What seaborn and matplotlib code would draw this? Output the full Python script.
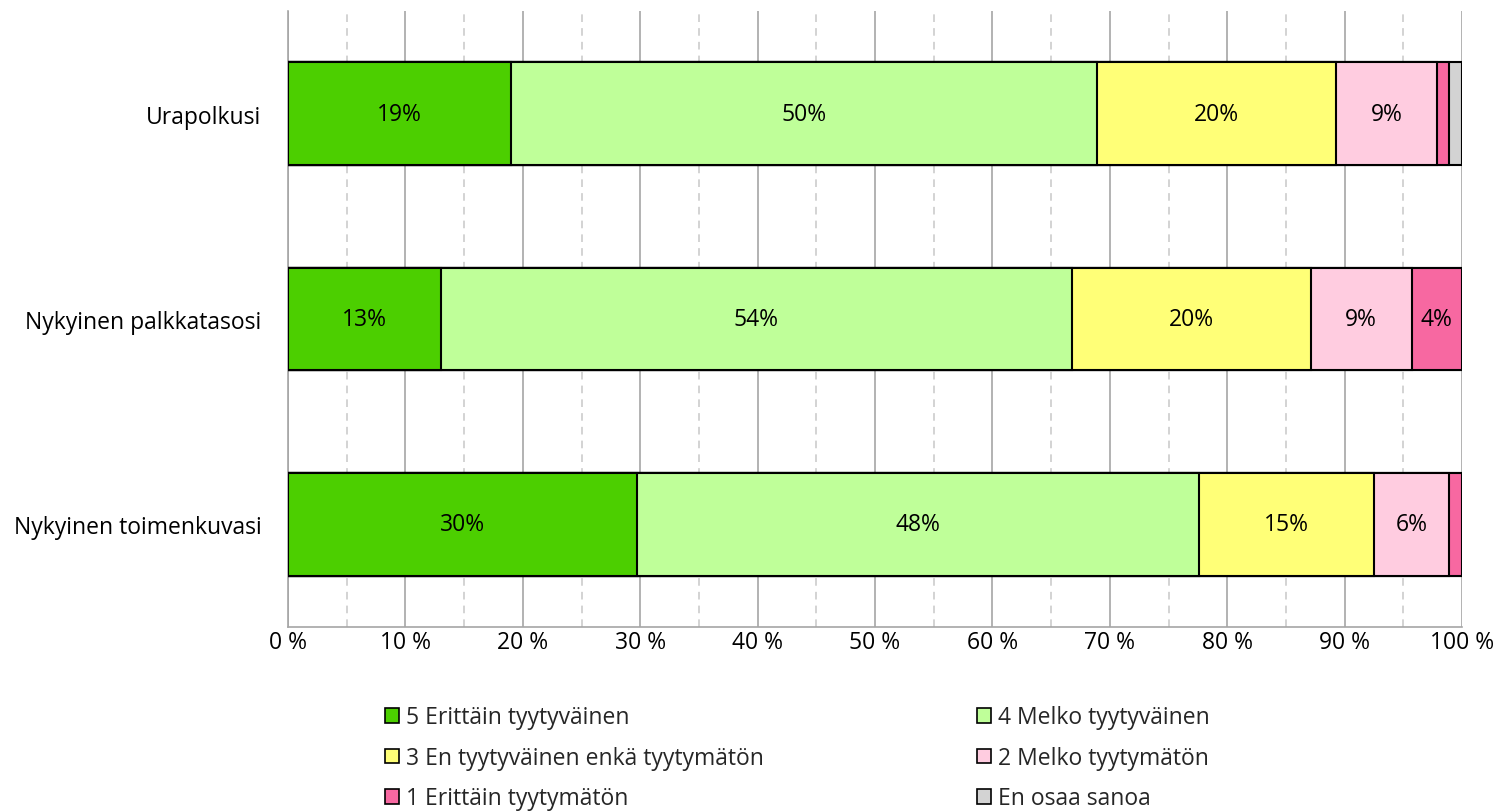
import matplotlib
matplotlib.use("Agg")
import matplotlib.pyplot as plt
from matplotlib.patches import Patch
from matplotlib.ticker import MultipleLocator
import numpy as np
import pandas as pd
import seaborn as sns

# Survey questions (rows) and answer shares in percent
questions = ["Urapolkusi", "Nykyinen palkkatasosi", "Nykyinen toimenkuvasi"]
answer_labels = [
    "5 Erittäin tyytyväinen",
    "4 Melko tyytyväinen",
    "3 En tyytyväinen enkä tyytymätön",
    "2 Melko tyytymätön",
    "1 Erittäin tyytymätön",
    "En osaa sanoa",
]
very_satisfied = [19.0, 13.0, 29.7]
fairly_satisfied = [49.9, 53.8, 47.9]
neutral = [20.4, 20.3, 14.9]
fairly_dissatisfied = [8.6, 8.6, 6.4]
very_dissatisfied = [1.0, 4.3, 1.1]
cannot_say = [1.1, 0.0, 0.0]
x_tick_values = list(range(0, 101, 10))

series = [very_satisfied, fairly_satisfied, neutral,
          fairly_dissatisfied, very_dissatisfied, cannot_say]
colors = ["#4CCF00", "#BFFF99", "#FFFF77", "#FFCCE0", "#F768A1", "#D3D3D3"]

FS = 16.5

sns.set_theme(style="white")
plt.rcParams["font.family"] = ["Open Sans", "DejaVu Sans"]

fig = plt.figure(figsize=(14.97, 8.12), dpi=100)
ax = fig.add_axes([288 / 1497, 1 - 628 / 812, (1462 - 288) / 1497, (628 - 12) / 812])

values = np.array(series)            # shape (answers, questions)
cum = np.cumsum(values, axis=0)
starts = cum - values

# Stacked bars: draw cumulative totals from the largest down so each
# segment shows on top of the one that extends beyond it.
for i in reversed(range(len(series))):
    df = pd.DataFrame({"question": questions, "total": cum[i]})
    sns.barplot(data=df, x="total", y="question", orient="h", ax=ax,
                color=colors[i], width=0.5, edgecolor="black",
                linewidth=1.5, saturation=1, zorder=3)

# Value labels inside segments
for i in range(len(series)):
    for j in range(len(questions)):
        v = values[i, j]
        if v >= 3:
            ax.text(starts[i, j] + v / 2, j, f"{v:.0f}%", ha="center",
                    va="center", fontsize=FS, color="black", zorder=5)

ax.set_xlim(0, 100)
ax.set_ylim(2.5, -0.5)
ax.set_xticks(x_tick_values)
ax.set_xticklabels([f"{t} %" for t in x_tick_values])
ax.xaxis.set_minor_locator(MultipleLocator(5))
ax.grid(False)
ax.grid(which="major", axis="x", color="#A6A6A6", linewidth=1.2, zorder=0)
ax.grid(which="minor", axis="x", color="#C8C8C8", linewidth=1.1,
        linestyle=(0, (5, 4)), zorder=0)
ax.set_axisbelow(True)
ax.set_xlabel("")
ax.set_ylabel("")
for s in ["top", "right"]:
    ax.spines[s].set_visible(False)
for s in ["left", "bottom"]:
    ax.spines[s].set_color("#A6A6A6")
    ax.spines[s].set_linewidth(1.2)
ax.tick_params(axis="both", which="both", length=0)
ax.tick_params(axis="x", labelsize=FS, pad=2, colors="black")
ax.tick_params(axis="y", labelsize=FS, pad=19, colors="black")

handles = [Patch(facecolor=c, edgecolor="black", linewidth=1.2) for c in colors]
leg_kw = dict(frameon=False, fontsize=FS, handlelength=0.6, handleheight=0.6,
              handletextpad=0.3, labelspacing=0.72, borderpad=0,
              loc="upper left")
left_idx = [0, 2, 4]
right_idx = [1, 3, 5]
leg1 = fig.legend([handles[k] for k in left_idx], [answer_labels[k] for k in left_idx],
                  bbox_to_anchor=(374 / 1497, 1 - 695 / 812), **leg_kw)
leg2 = fig.legend([handles[k] for k in right_idx], [answer_labels[k] for k in right_idx],
                  bbox_to_anchor=(966 / 1497, 1 - 695 / 812), **leg_kw)

fig.savefig("out.png", dpi=100, facecolor="white")
